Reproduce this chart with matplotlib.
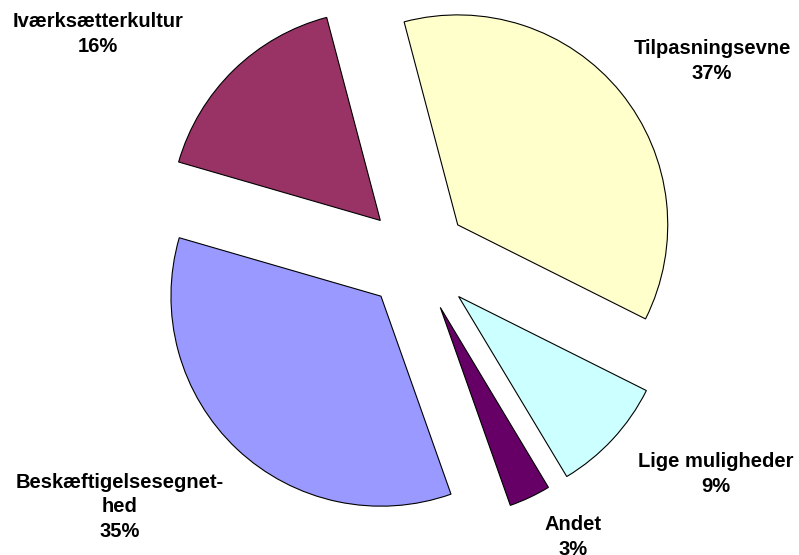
import matplotlib.pyplot as plt

# slice data, clockwise from the top (labels show rounded percentages)
labels = ["Tilpasningsevne", "Lige muligheder", "Andet", "Beskæftigelsesegnet-\nhed", "Iværksætterkultur"]
shares = [36.5, 9.0, 3.2, 34.9, 16.4]
colors = ["#FFFFCC", "#CCFFFF", "#660066", "#9999FF", "#993366"]
explode = [0.25, 0.27, 0.26, 0.25, 0.25]

# label centres in pixels (x, y from top)
label_px = [(712, 61), (716, 474), (573, 537), (120, 507), (98, 34)]

W, H = 799, 555
cx, cy, R = 417, 258, 210   # pie centre / radius in pixels

fig = plt.figure(figsize=(W / 100, H / 100), dpi=100)
ax = fig.add_axes([0, 0, 1, 1])

ax.pie(shares, colors=colors, explode=explode, startangle=104.8,
       counterclock=False, radius=1,
       wedgeprops=dict(edgecolor="black", linewidth=0.8))

ax.set_xlim(-cx / R, (W - cx) / R)
ax.set_ylim(-(H - cy) / R, cy / R)
ax.set_aspect("equal")
ax.axis("off")

for lab, val, (px, py) in zip(labels, shares, label_px):
    ax.text(px / W, 1 - py / H, "{}\n{}%".format(lab, int(val + 0.5)), transform=ax.transAxes,
            ha="center", va="center", fontsize=14.5, fontweight="bold",
            family="Liberation Sans", linespacing=1.35)

fig.savefig("out.png", dpi=100)
